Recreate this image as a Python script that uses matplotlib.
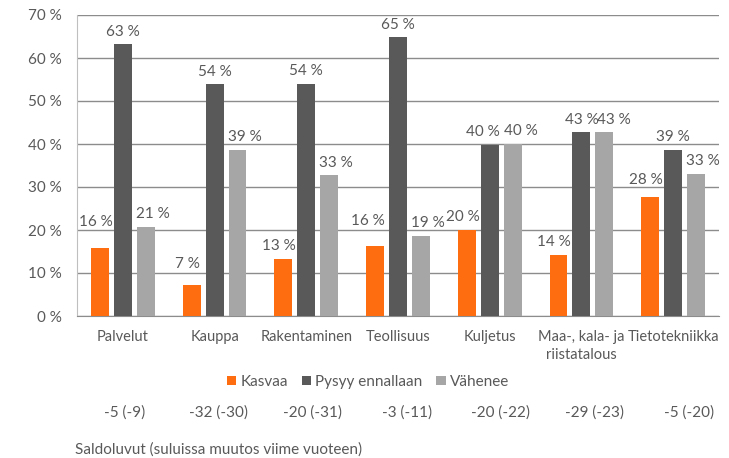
import matplotlib
matplotlib.use("Agg")
import matplotlib.pyplot as plt
import numpy as np

categories = ["Palvelut", "Kauppa", "Rakentaminen", "Teollisuus", "Kuljetus",
              "Maa-, kala- ja\nriistatalous", "Tietotekniikka"]
kasvaa = [15.7, 7.2, 13.3, 16.2, 20.0, 14.2, 27.7]
pysyy = [63.2, 53.9, 54.0, 64.8, 39.8, 42.7, 38.7]
vahenee = [20.8, 38.6, 32.7, 18.6, 40.0, 42.7, 33.1]
series_names = ["Kasvaa", "Pysyy ennallaan", "Vähenee"]
saldo = ["-5 (-9)", "-32 (-30)", "-20 (-31)", "-3 (-11)", "-20 (-22)", "-29 (-23)", "-5 (-20)"]
footer = "Saldoluvut (suluissa muutos viime vuoteen)"
yticks = [0, 10, 20, 30, 40, 50, 60, 70]

colors = ["#FF6D11", "#595959", "#A6A6A6"]
txt = "#595959"
fs = 11
plt.rcParams["font.family"] = ["Lato", "DejaVu Sans"]

fig = plt.figure(figsize=(7.29, 4.58), dpi=100)
ax = fig.add_axes([77/729, 1-316/458, (719-77)/729, (316-15)/458])

x = np.arange(len(categories))
pitch = 0.25
width = 0.196
# nudges of the value labels (points), per series, plus special cases
label_dx = [-3, 0, 5]
special_dx = {(4, 1): -5, (4, 2): 6, (5, 2): 7, (3, 0): -5}
special_dy = {(0, 0): 14, (1, 0): 10, (3, 0): 13, (6, 0): 7}
for k, (vals, name) in enumerate(zip([kasvaa, pysyy, vahenee], series_names)):
    bars = ax.bar(x + (k-1)*pitch, vals, width, color=colors[k], label=name, zorder=3)
    for i, (b, v) in enumerate(zip(bars, vals)):
        dx = special_dx.get((i, k), label_dx[k])
        dy = special_dy.get((i, k), 4)
        ax.annotate(f"{round(v)} %", (b.get_x()+b.get_width()/2, v),
                    xytext=(dx, dy), textcoords="offset points",
                    ha="center", va="bottom", fontsize=fs, color=txt)

ax.set_ylim(0, 70)
ax.set_xlim(-0.5, len(categories)-0.5)
ax.set_yticks(yticks)
ax.set_yticklabels([f"{t} %" for t in yticks], fontsize=fs)
ax.set_xticks(x)
ax.set_xticklabels(categories, linespacing=1.35, fontsize=10.5)
ax.tick_params(axis="both", length=0, colors=txt)
ax.tick_params(axis="y", pad=11)
ax.tick_params(axis="x", pad=10)
ax.grid(axis="y", color="#8C8C8C", linewidth=1, zorder=0)
for s in ["top", "right"]:
    ax.spines[s].set_visible(False)
ax.spines["left"].set_color("#BFBFBF")
ax.spines["bottom"].set_color("#8C8C8C")

leg = fig.legend(loc="center", bbox_to_anchor=(368/729, 1-382/458), ncol=3,
                 frameon=False, fontsize=fs, handlelength=0.6, handleheight=0.6,
                 handletextpad=0.3, columnspacing=0.9)
for t in leg.get_texts():
    t.set_color(txt)

for i, s in enumerate(saldo):
    ax.text(i + 0.02 + 0.025*i, -(413-316)/301, s, transform=ax.get_xaxis_transform(),
            ha="center", va="center", fontsize=fs, color=txt)

fig.text(75/729, 1-450/458, footer, ha="left", va="center", fontsize=fs, color=txt)

fig.savefig("out.png", dpi=100)
